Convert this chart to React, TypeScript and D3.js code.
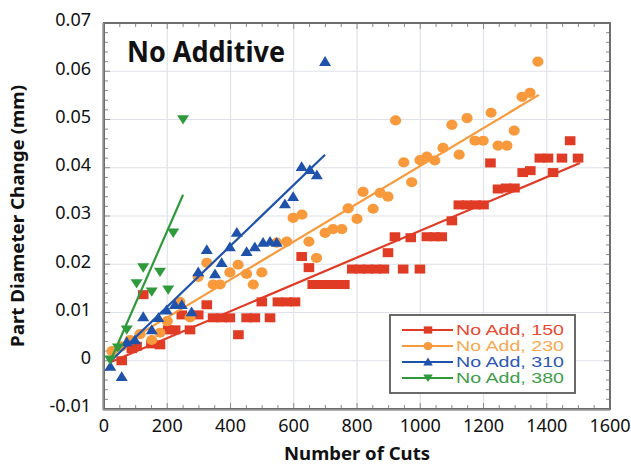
import * as d3 from "d3";

// ---- data ----
const xTicks = [0, 200, 400, 600, 800, 1000, 1200, 1400, 1600];
const yTicks = [-0.01, 0, 0.01, 0.02, 0.03, 0.04, 0.05, 0.06, 0.07];

const add150: [number, number][] = [
  [56, 0.0], [88, 0.0025], [103, 0.003], [124, 0.0137], [150, 0.0035], [177, 0.0033],
  [203, 0.0064], [225, 0.0064], [246, 0.0095], [272, 0.0064], [298, 0.0095], [325, 0.0116],
  [345, 0.0089], [372, 0.0089], [398, 0.0089], [425, 0.0054], [451, 0.0089], [477, 0.0089],
  [499, 0.0122], [525, 0.0089], [550, 0.0122], [578, 0.0122], [604, 0.0122], [625, 0.0216],
  [648, 0.0193], [660, 0.0158], [685, 0.0158], [710, 0.0158], [735, 0.0158], [760, 0.0158],
  [785, 0.019], [810, 0.019], [835, 0.019], [860, 0.019], [885, 0.019], [898, 0.0224],
  [920, 0.0257], [946, 0.019], [970, 0.0255], [999, 0.019], [1021, 0.0257], [1045, 0.0257],
  [1068, 0.0257], [1100, 0.029], [1122, 0.0323], [1148, 0.0323], [1175, 0.0323], [1200, 0.0323],
  [1222, 0.041], [1246, 0.0356], [1272, 0.0358], [1298, 0.0358], [1324, 0.039], [1348, 0.0394],
  [1378, 0.042], [1404, 0.042], [1420, 0.039], [1448, 0.042], [1474, 0.0456], [1499, 0.042],
];

const add230: [number, number][] = [
  [25, 0.002], [55, 0.003], [82, 0.0043], [114, 0.0055], [151, 0.0043], [177, 0.0058],
  [200, 0.0082], [240, 0.0122], [272, 0.009], [298, 0.0174], [325, 0.0203], [345, 0.0158],
  [367, 0.0158], [398, 0.0183], [424, 0.0199], [451, 0.018], [472, 0.0158], [499, 0.0183],
  [546, 0.0245], [578, 0.0247], [598, 0.0296], [626, 0.0303], [648, 0.0247], [672, 0.0213],
  [699, 0.0265], [724, 0.0273], [752, 0.0273], [772, 0.0316], [800, 0.0294], [819, 0.035],
  [851, 0.0315], [873, 0.0348], [898, 0.034], [922, 0.0498], [948, 0.0411], [973, 0.037],
  [999, 0.0416], [1021, 0.0423], [1046, 0.0415], [1072, 0.0441], [1100, 0.0489], [1123, 0.0427],
  [1148, 0.0503], [1173, 0.0456], [1199, 0.0456], [1224, 0.0514], [1246, 0.0446], [1274, 0.0446],
  [1297, 0.0477], [1322, 0.0547], [1347, 0.0555], [1372, 0.062],
];

const add310: [number, number][] = [
  [20, -0.0012], [56, -0.0033], [72, 0.0039], [98, 0.0043], [124, 0.0091], [151, 0.0064],
  [172, 0.0089], [198, 0.0105], [224, 0.0116], [246, 0.0116], [277, 0.0101], [298, 0.0184],
  [325, 0.023], [351, 0.018], [372, 0.0203], [398, 0.0236], [420, 0.0266], [451, 0.0226],
  [477, 0.0236], [503, 0.0245], [525, 0.0247], [546, 0.0245], [572, 0.0325], [598, 0.034],
  [625, 0.0402], [651, 0.0396], [673, 0.0385], [699, 0.062],
];

const add380: [number, number][] = [
  [19, 0.0002], [44, 0.0027], [72, 0.0064], [103, 0.016], [124, 0.0193], [151, 0.0143],
  [177, 0.0184], [203, 0.0147], [219, 0.0265], [250, 0.05],
];

// straight fit lines (end points)
const fit150: [number, number][] = [[20, -0.0003], [1505, 0.041]];
const fit230: [number, number][] = [[19, 0.0019], [1375, 0.0551]];
const fit310: [number, number][] = [[19, -0.0002], [699, 0.0427]];
const fit380: [number, number][] = [[19, -0.0002], [250, 0.0344]];

const seriesNames = ["No Add, 150", "No Add, 230", "No Add, 310", "No Add, 380"];

type Shape = "square" | "circle" | "up" | "down";

const series = [
  { name: seriesNames[0], data: add150, fit: fit150, color: "#e03b25", text: "#e84a33", shape: "square" as Shape },
  { name: seriesNames[1], data: add230, fit: fit230, color: "#f89a3c", text: "#f7a851", shape: "circle" as Shape },
  { name: seriesNames[2], data: add310, fit: fit310, color: "#1f52ab", text: "#2d58b3", shape: "up" as Shape },
  { name: seriesNames[3], data: add380, fit: fit380, color: "#2f9a3b", text: "#3f9d4a", shape: "down" as Shape },
];

const marker = (shape: Shape, cx: number, cy: number, color: string, k: number, key?: any) => {
  if (shape === "square")
    return <rect key={key} x={cx - 5.3 * k} y={cy - 4.5 * k} width={10.6 * k} height={9 * k} fill={color} />;
  if (shape === "circle")
    return <ellipse key={key} cx={cx} cy={cy} rx={5.6 * k} ry={5.1 * k} fill={color} />;
  if (shape === "up")
    return (
      <path key={key} d={`M${cx},${cy - 5.5 * k}L${cx + 6 * k},${cy + 4.3 * k}L${cx - 6 * k},${cy + 4.3 * k}Z`} fill={color} />
    );
  return (
    <path key={key} d={`M${cx - 6 * k},${cy - 4.3 * k}L${cx + 6 * k},${cy - 4.3 * k}L${cx},${cy + 5 * k}Z`} fill={color} />
  );
};

export default function App() {
  const x = d3.scaleLinear().domain([0, 1600]).range([104, 610]);
  const y = d3.scaleLinear().domain([-0.01, 0.07]).range([409, 23]);
  const line = d3
    .line<[number, number]>()
    .x((d) => x(d[0]))
    .y((d) => y(d[1]));

  const [x0, x1] = x.range();
  const [y0, y1] = y.range();
  const xMinor = d3.range(0, 1601, 50);
  const yMinor = d3.range(-10, 71, 2).map((v) => v / 1000);
  const fmtY = (v: number) => (Math.abs(v) < 1e-9 ? "0" : v.toFixed(2));
  const font = "'Noto Sans', 'Open Sans', sans-serif";

  const legendX = 390;
  const legendY = 315;

  return (
    <svg
      width={631}
      height={466}
      style={{ position: "absolute", left: 0, top: 0, background: "#fff" }}
      fontFamily={font}
    >
      {/* grid */}
      {xTicks.slice(1, -1).map((t) => (
        <line key={"gx" + t} x1={x(t)} x2={x(t)} y1={y1} y2={y0} stroke="#dfe2ea" strokeWidth={1.2} />
      ))}
      {yTicks.slice(1, -1).map((t) => (
        <line key={"gy" + t} x1={x0} x2={x1} y1={y(t)} y2={y(t)} stroke="#dfe2ea" strokeWidth={1.2} />
      ))}

      {/* minor ticks, inward on all sides */}
      {xMinor.map((t) => (
        <g key={"tx" + t} stroke="#8a8a8a" strokeWidth={1}>
          <line x1={x(t)} x2={x(t)} y1={y0} y2={y0 - (t % 200 === 0 ? 6 : 4)} />
          <line x1={x(t)} x2={x(t)} y1={y1} y2={y1 + (t % 200 === 0 ? 6 : 4)} />
        </g>
      ))}
      {yMinor.map((t, i) => (
        <g key={"ty" + i} stroke="#8a8a8a" strokeWidth={1}>
          <line x1={x0} x2={x0 + (i % 5 === 0 ? 6 : 4)} y1={y(t)} y2={y(t)} />
          <line x1={x1} x2={x1 - (i % 5 === 0 ? 6 : 4)} y1={y(t)} y2={y(t)} />
        </g>
      ))}

      {/* series */}
      {series.map((s) => (
        <g key={s.name}>
          {s.data.map((d, i) => marker(s.shape, x(d[0]), y(d[1]), s.color, 1, i))}
          <path d={line(s.fit) ?? ""} stroke={s.color} strokeWidth={2.2} fill="none" />
        </g>
      ))}

      {/* frame */}
      <rect x={x0} y={y1} width={x1 - x0} height={y0 - y1} fill="none" stroke="#6e6e6e" strokeWidth={2} />
      <line x1={x0 - 1} x2={x0 - 1} y1={y1} y2={y0 + 1} stroke="#9a9a9a" strokeWidth={1.5} />
      <line x1={x0 - 1} x2={x1} y1={y0 + 1} y2={y0 + 1} stroke="#9a9a9a" strokeWidth={1.5} />

      {/* tick labels */}
      {yTicks.map((t) => (
        <text key={"ly" + t} x={91} y={y(t) - 3} dy="0.35em" textAnchor="end" fontSize={18} fill="#111">
          {fmtY(t)}
        </text>
      ))}
      {xTicks.map((t) => (
        <text key={"lx" + t} x={x(t)} y={432} textAnchor="middle" fontSize={18} fill="#111">
          {t}
        </text>
      ))}

      {/* axis titles */}
      <text
        x={357}
        y={460}
        textAnchor="middle"
        fontSize={18}
        fontWeight="bold"
        fill="#111"
        textLength={146}
        lengthAdjust="spacingAndGlyphs"
      >
        Number of Cuts
      </text>
      <text
        transform="translate(24,216) rotate(-90)"
        textAnchor="middle"
        fontSize={18}
        fontWeight="bold"
        fill="#111"
        textLength={262}
        lengthAdjust="spacingAndGlyphs"
      >
        Part Diameter Change (mm)
      </text>

      {/* inner title */}
      <text
        x={127}
        y={62}
        fontSize={28}
        fontWeight="bold"
        fill="#111"
        textLength={158}
        lengthAdjust="spacingAndGlyphs"
      >
        No Additive
      </text>

      {/* legend */}
      <rect x={legendX} y={legendY} width={185} height={78} fill="#fff" stroke="#5a5a5a" strokeWidth={1.8} />
      {series.map((s, i) => {
        const ly = legendY + 15 + i * 16;
        return (
          <g key={"lg" + s.name}>
            <line x1={402} x2={453} y1={ly} y2={ly} stroke={s.color} strokeWidth={2.2} />
            {marker(s.shape, 428, ly, s.color, 0.8)}
            <text
              x={456}
              y={ly}
              dy="0.36em"
              fontSize={15}
              fill={s.text}
              fontFamily="'Liberation Sans', Arial, sans-serif"
              textLength={108}
              lengthAdjust="spacingAndGlyphs"
            >
              {s.name}
            </text>
          </g>
        );
      })}
    </svg>
  );
}
